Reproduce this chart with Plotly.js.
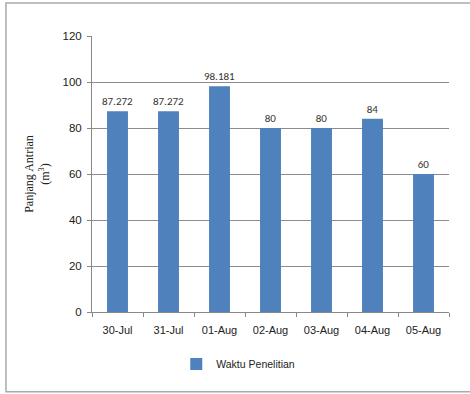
<!DOCTYPE html>
<html>
<head>
<meta charset="utf-8">
<script src="https://cdn.plot.ly/plotly-3.0.1.min.js"></script>
<style>
  html, body { margin: 0; padding: 0; background: #fff; }
  #chart { width: 470px; height: 394px; }
</style>
</head>
<body>
<div id="chart"></div>
<script>
// Queue length per observation day
const days = ['30-Jul', '31-Jul', '01-Aug', '02-Aug', '03-Aug', '04-Aug', '05-Aug'];
const queueLength = [87.272, 87.272, 98.181, 80, 80, 84, 60];
const valueLabels = ['87.272', '87.272', '98.181', '80', '80', '84', '60'];
const yTicks = [0, 20, 40, 60, 80, 100, 120];

const trace = {
  type: 'bar',
  x: days,
  y: queueLength,
  name: 'Waktu Penelitian',
  text: valueLabels,
  textposition: 'outside',
  constraintext: 'none',
  cliponaxis: false,
  textfont: { family: 'Carlito, "Liberation Sans", Arial, sans-serif', size: 11, color: '#333' },
  marker: { color: '#4F81BD' },
  width: 0.41,
  hoverinfo: 'x+y'
};

const layout = {
  width: 470,
  height: 394,
  margin: { l: 92, r: 21, t: 35.5, b: 82, autoexpand: false },
  paper_bgcolor: '#fff',
  plot_bgcolor: '#fff',
  font: { family: '"Liberation Sans", Arial, sans-serif', size: 11, color: '#222' },
  showlegend: true,
  legend: {
    orientation: 'h',
    xref: 'container', yref: 'container',
    x: 0.375, xanchor: 'left',
    y: 0.076, yanchor: 'middle',
    font: { size: 10.5, color: '#222' },
    itemwidth: 30
  },
  xaxis: {
    type: 'category',
    showline: true,
    linecolor: '#888',
    linewidth: 1,
    ticks: 'outside',
    ticklen: 4,
    tickcolor: '#888',
    tickson: 'boundaries',
    ticklabelstandoff: 8,
    showgrid: false,
    tickfont: { size: 11, color: '#222' },
    range: [-0.5, 6.5]
  },
  yaxis: {
    range: [0, 120],
    tickvals: yTicks,
    showline: true,
    linecolor: '#888',
    linewidth: 1,
    ticks: 'outside',
    ticklen: 4,
    tickcolor: '#888',
    ticklabelstandoff: 3,
    showgrid: true,
    gridcolor: '#8c8c8c',
    gridwidth: 1,
    zeroline: false,
    tickfont: { size: 11.5, color: '#222' },
    title: {
      text: 'Panjang Antrian<br>(m<sup>3</sup>)',
      font: { family: '"Liberation Serif", "Times New Roman", serif', size: 12, color: '#222' },
      standoff: 10
    }
  },
  shapes: [
    {
      type: 'rect', xref: 'paper', yref: 'paper',
      x0: -0.241, x1: 1.1, y0: -0.289, y1: 1.12,
      line: { color: '#aaa', width: 1.5 },
      fillcolor: 'rgba(0,0,0,0)',
      layer: 'below'
    }
  ]
};

Plotly.newPlot('chart', [trace], layout, { displayModeBar: false, staticPlot: true });
</script>
</body>
</html>
